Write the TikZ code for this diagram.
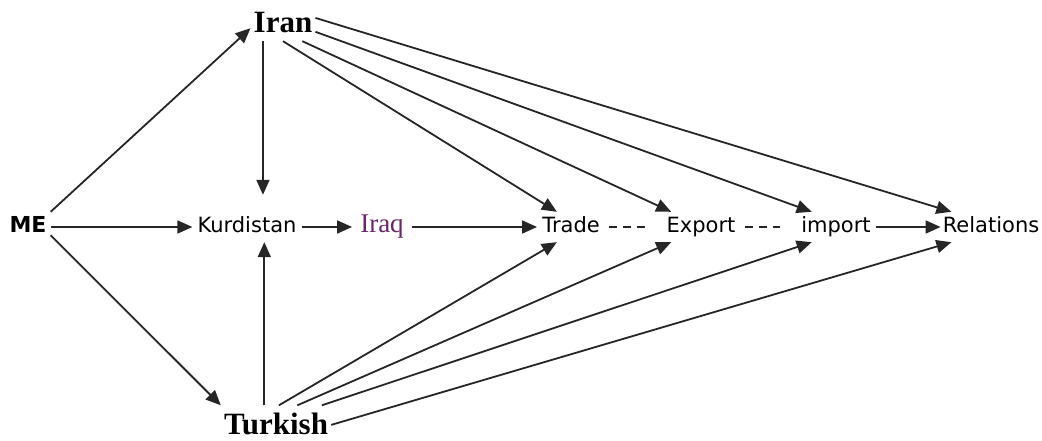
\documentclass[tikz,border=0pt]{standalone}
\usepackage{fontspec}
\usepackage{xcolor}
\usetikzlibrary{arrows.meta, positioning}
\newfontfamily\labfont{DejaVu Sans}
\newfontfamily\namefont{Liberation Serif}
\definecolor{iraqpurple}{RGB}{104,38,104}

\begin{document}
\begin{tikzpicture}[x=1pt, y=-1pt,
        word/.style={font=\labfont\fontsize{21}{25}\selectfont, inner xsep=5pt, inner ysep=0pt, text height=15pt, text depth=4pt, minimum height=30pt},
        country/.style={font=\namefont\bfseries\fontsize{31}{36}\selectfont, inner xsep=3pt, inner ysep=8pt, text height=21pt, text depth=0pt},
        arr/.style={-{Triangle[length=15pt, width=13pt]}, line width=1.8pt, draw=black!85},
        dots/.style={dash pattern=on 8pt off 6pt, line width=1.6pt, draw=black!85, shorten <=4pt, shorten >=16pt}]
        \useasboundingbox (0, 0) rectangle (1042, 441);

        \node[word, font=\labfont\bfseries\fontsize{22}{26}\selectfont, inner xsep=4pt] (me) at (28, 227) {ME};
        \node[country] (iran) at (283, 22.5) {Iran};
        \node[country, inner ysep=4pt, text height=25pt] (turk) at (276, 422) {Turkish};
        \node[word] (kurd) at (247, 227) {Kurdistan};
        \node[word, font=\namefont\fontsize{27}{31}\selectfont, text=iraqpurple, inner xsep=8pt] (iraq) at (382, 227) {Iraq};
        \node[word] (trade) at (571, 227) {Trade};
        \node[word] (export) at (701, 227) {Export};
        \node[word] (imp) at (836, 227) {import};
        \node[word, inner xsep=2pt] (rel) at (991, 227) {Relations};

        \draw[arr] (me.north east) -- (iran.190);
        \draw[arr] (me) -- (kurd);
        \draw[arr] (me.-20) -- (turk.north west);
        \draw[arr, shorten >=17pt] (iran.-137) -- (iran.-137 |- kurd.north);
        \draw[arr] (turk.125) -- (turk.125 |- kurd.south);
        \draw[arr] (kurd) -- (iraq);
        \draw[arr] (iraq) -- (trade);
        \draw[dots] (trade) -- (export);
        \draw[dots] (export) -- (imp);
        \draw[arr] (imp) -- (rel);

        \draw[arr] (iran.south) -- (trade.133);
        \draw[arr] (iran.-44) -- (export.153);
        \draw[arr] (iran.-16) -- (imp.148);
        \draw[arr] (iran.8) -- (rel.159);

        \draw[arr] (turk.80) -- (trade.-133);
        \draw[arr] (turk.38) -- (export.-153);
        \draw[arr] (turk.20) -- (imp.-148);
        \draw[arr] (turk.-3) -- (rel.-159);
    \end{tikzpicture}
\end{document}
